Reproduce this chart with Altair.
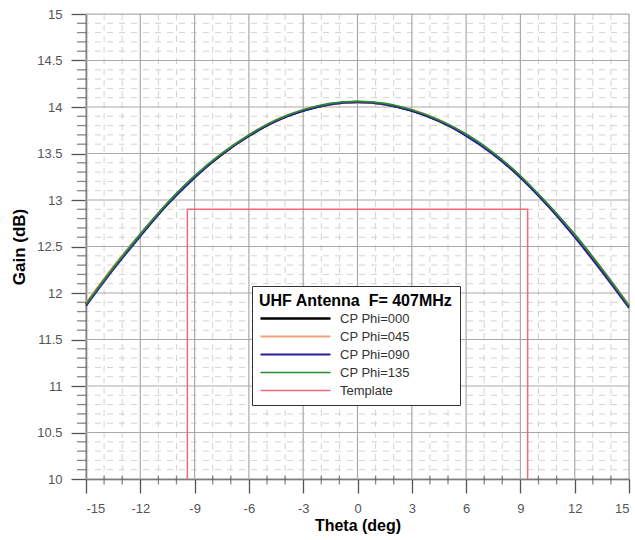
import altair as alt
import pandas as pd

# ---- data ----
theta = [-15, -13.5, -12, -10.5, -9, -7.5, -6, -4.5, -3, -1.5, 0,
         1.5, 3, 4.5, 6, 7.5, 9, 10.5, 12, 13.5, 15]
gain_000 = [11.88, 12.27, 12.63, 12.96, 13.25, 13.49, 13.69, 13.85, 13.96, 14.03, 14.055,
            14.03, 13.96, 13.85, 13.70, 13.50, 13.25, 12.95, 12.62, 12.25, 11.86]
gain_045 = [11.89, 12.28, 12.63, 12.96, 13.25, 13.50, 13.70, 13.86, 13.97, 14.03, 14.05,
            14.03, 13.97, 13.86, 13.70, 13.50, 13.25, 12.95, 12.62, 12.26, 11.87]
gain_090 = [11.86, 12.25, 12.61, 12.95, 13.24, 13.49, 13.69, 13.85, 13.96, 14.03, 14.05,
            14.03, 13.96, 13.85, 13.69, 13.49, 13.24, 12.94, 12.60, 12.23, 11.84]
gain_135 = [11.88, 12.27, 12.63, 12.97, 13.26, 13.50, 13.70, 13.86, 13.97, 14.04, 14.06,
            14.04, 13.97, 13.86, 13.71, 13.51, 13.26, 12.96, 12.63, 12.26, 11.86]
template_theta = [-9.4, -9.4, 9.4, 9.4]
template_gain = [10, 12.9, 12.9, 10]

series_names = ["CP Phi=000", "CP Phi=045", "CP Phi=090", "CP Phi=135", "Template"]
series_colors = ["#000000", "#f4a07c", "#2b1d98", "#2a8a34", "#f06a78"]
series_widths = [2.4, 1.5, 2.4, 2.4, 1.5]

x_major = [-15, -12, -9, -6, -3, 0, 3, 6, 9, 12, 15]
y_major = [10, 10.5, 11, 11.5, 12, 12.5, 13, 13.5, 14, 14.5, 15]
x_minor = [-14, -13, -11, -10, -8, -7, -5, -4, -2, -1, 1, 2, 4, 5, 7, 8, 10, 11, 13, 14]
y_minor = [10.1, 10.2, 10.3, 10.4, 10.6, 10.7, 10.8, 10.9,
           11.1, 11.2, 11.3, 11.4, 11.6, 11.7, 11.8, 11.9,
           12.1, 12.2, 12.3, 12.4, 12.6, 12.7, 12.8, 12.9,
           13.1, 13.2, 13.3, 13.4, 13.6, 13.7, 13.8, 13.9,
           14.1, 14.2, 14.3, 14.4, 14.6, 14.7, 14.8, 14.9]

legend_title = "UHF Antenna\u00a0\u00a0F=\u00a0407MHz\u00a0\u00a0"

# ---- tables ----
rows = []
for name, gains in zip(series_names[:4], [gain_000, gain_045, gain_090, gain_135]):
    for i, (t, g) in enumerate(zip(theta, gains)):
        rows.append({"theta": t, "gain": g, "series": name, "idx": i})
for i, (t, g) in enumerate(zip(template_theta, template_gain)):
    rows.append({"theta": t, "gain": g, "series": "Template", "idx": i})
df = pd.DataFrame(rows)

xs = alt.Scale(domain=[-15, 15], nice=False, zero=False)
ys = alt.Scale(domain=[10, 15], nice=False, zero=False)

FONT = "Liberation Sans"
HYPHEN = "replace(datum.label, '\u2212', '-')"

X_AX = alt.Axis(values=x_major, title="Theta (deg)", grid=False, tickSize=14, labelExpr=HYPHEN,
                tickColor="#555555", tickWidth=1.3, domainColor="#555555", domainWidth=1.5,
                labelFont=FONT, labelFontSize=13, labelColor="#555555", labelPadding=9,
                titleFont=FONT, titleFontSize=16, titleFontWeight="bold", titleColor="#000000",
                titlePadding=2)
Y_AX = alt.Axis(values=y_major, title="Gain (dB)", grid=False, tickSize=15, format="~g",
                tickColor="#555555", tickWidth=1.3, domainColor="#555555", domainWidth=1.5,
                labelFont=FONT, labelFontSize=13, labelColor="#555555", labelPadding=9,
                titleFont=FONT, titleFontSize=17, titleFontWeight="bold", titleColor="#000000",
                titlePadding=8)

LEG = alt.Legend(title=legend_title, orient="none", legendX=166, legendY=272,
                 symbolType="M-7,0H7", symbolSize=100, symbolOffset=30,
                 strokeColor="#333333", fillColor="#ffffff", padding=7,
                 titleFont=FONT, titleFontSize=16, titleFontWeight="bold",
                 titleColor="#000000", titleLimit=400, titlePadding=3,
                 labelFont=FONT, labelFontSize=13, labelColor="#333333",
                 labelOffset=38, rowPadding=4)

xminor_df = pd.DataFrame({"v": x_minor})
yminor_df = pd.DataFrame({"v": y_minor})
xmajor_df = pd.DataFrame({"v": x_major})
ymajor_df = pd.DataFrame({"v": y_major})

minor_v = alt.Chart(xminor_df).mark_rule(color="#d3d3d3", strokeWidth=1, strokeDash=[6, 5]).encode(
    x=alt.X("v:Q", scale=xs, axis=X_AX))
minor_h = alt.Chart(yminor_df).mark_rule(color="#d3d3d3", strokeWidth=1, strokeDash=[6, 6]).encode(
    y=alt.Y("v:Q", scale=ys, axis=Y_AX))
major_v = alt.Chart(xmajor_df).mark_rule(color="#a9a9a9", strokeWidth=1.2).encode(
    x=alt.X("v:Q", scale=xs, axis=X_AX))
major_h = alt.Chart(ymajor_df).mark_rule(color="#a9a9a9", strokeWidth=1.2).encode(
    y=alt.Y("v:Q", scale=ys, axis=Y_AX))

minor_xt = alt.Chart(xminor_df).mark_tick(color="#555555", size=9, thickness=1.3).encode(
    x=alt.X("v:Q", scale=xs, axis=X_AX), y=alt.value(466))
minor_yt = alt.Chart(yminor_df).mark_tick(color="#555555", size=10, thickness=1.3, orient="horizontal").encode(
    y=alt.Y("v:Q", scale=ys, axis=Y_AX), x=alt.value(-4))

lines = alt.Chart(df).mark_line(interpolate="monotone").encode(
    x=alt.X("theta:Q", scale=xs, axis=X_AX),
    y=alt.Y("gain:Q", scale=ys, axis=Y_AX),
    color=alt.Color("series:N", scale=alt.Scale(domain=series_names, range=series_colors), legend=LEG),
    strokeWidth=alt.StrokeWidth("series:N", scale=alt.Scale(domain=series_names, range=series_widths),
                                legend=LEG),
    detail="series:N",
    order=alt.Order("idx:Q"),
)

chart = alt.layer(minor_v, minor_h, major_v, major_h, minor_xt, minor_yt, lines).properties(
    width=543, height=465,
    padding={"left": 86, "top": 14, "right": 6, "bottom": 61},
    autosize=alt.AutoSizeParams(type="none"),
).configure_view(stroke=None).configure(background="#ffffff")

chart.save("out.html", embed_options={"renderer": "svg", "actions": False})
